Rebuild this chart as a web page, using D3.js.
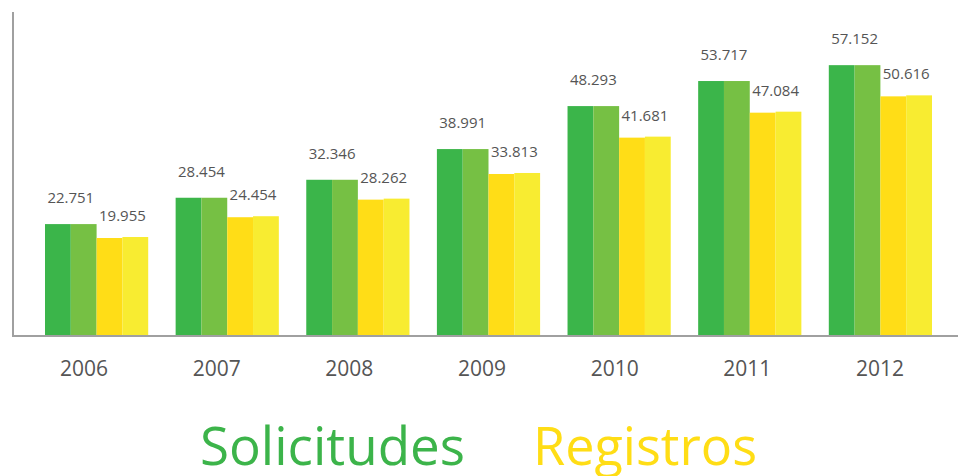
<!DOCTYPE html>
<html>
<head>
<meta charset="utf-8">
<script src="https://cdn.jsdelivr.net/npm/d3@7"></script>
<style>
  body { margin: 0; background: #fff; }
  text { font-family: "Open Sans", sans-serif; }
</style>
</head>
<body>
<div id="chart"></div>
<script>
// data
var years = ["2006", "2007", "2008", "2009", "2010", "2011", "2012"];
var solicitudes = [22751, 28454, 32346, 38991, 48293, 53717, 57152];
var registros = [19955, 24454, 28262, 33813, 41681, 47084, 50616];
var seriesNames = ["Solicitudes", "Registros"];

var width = 958, height = 476;

var svg = d3.select("#chart").append("svg")
	.attr("width", width)
	.attr("height", height);

// scales
var x = d3.scaleBand()
	.domain(years)
	.range([45, 932])
	.paddingInner(0.21)
	.paddingOuter(0);

var xLabel = d3.scalePoint()
	.domain(years)
	.range([84, 880]);

var x1 = d3.scaleBand()
	.domain([0, 1, 2, 3])
	.range([0, x.bandwidth()]);

var y = d3.scaleLinear()
	.domain([-1470, 60000])
	.range([336, 52]);

var fmt = function(v) { return d3.format(",")(v).replace(/,/g, "."); };

var colors = {
	s: ["#3bb54a", "#76c044"],
	r: ["#ffdd17", "#f8ec31"]
};

// axes lines
svg.append("line")
	.attr("x1", 13).attr("x2", 13)
	.attr("y1", 12).attr("y2", 337)
	.style("stroke", "#a0a0a0")
	.style("stroke-width", 2);

var g = svg.selectAll(".year")
	.data(years)
	.enter().append("g")
	.attr("class", "year")
	.attr("transform", function(d) { return "translate(" + x(d) + ",0)"; });

// each year: two shades per series
g.each(function(d, i) {
	var grp = d3.select(this);
	var s = solicitudes[i], r = registros[i];
	grp.append("rect")
		.attr("x", x1(0)).attr("width", x1.bandwidth())
		.attr("y", y(s)).attr("height", y(-1470) - y(s))
		.style("fill", colors.s[0]);
	grp.append("rect")
		.attr("x", x1(1)).attr("width", x1.bandwidth())
		.attr("y", y(s)).attr("height", y(-1470) - y(s))
		.style("fill", colors.s[1]);
	grp.append("rect")
		.attr("x", x1(2)).attr("width", x1.bandwidth())
		.attr("y", y(r) + 1).attr("height", y(-1470) - y(r) - 1)
		.style("fill", colors.r[0]);
	grp.append("rect")
		.attr("x", x1(3)).attr("width", x1.bandwidth())
		.attr("y", y(r)).attr("height", y(-1470) - y(r))
		.style("fill", colors.r[1]);

	grp.append("text")
		.attr("x", x1(1))
		.attr("y", y(s) - 21)
		.attr("text-anchor", "middle")
		.style("font-size", "15px")
		.style("fill", "#555")
		.text(fmt(s));
	grp.append("text")
		.attr("x", x1(3))
		.attr("y", y(r) - 16)
		.attr("text-anchor", "middle")
		.style("font-size", "15px")
		.style("fill", "#555")
		.text(fmt(r));
});

svg.append("line")
	.attr("x1", 13).attr("x2", 958)
	.attr("y1", 336).attr("y2", 336)
	.style("stroke", "#a0a0a0")
	.style("stroke-width", 2);

// year labels
svg.selectAll(".yl")
	.data(years)
	.enter().append("text")
	.attr("class", "yl")
	.attr("x", function(d) { return xLabel(d); })
	.attr("y", 376)
	.attr("text-anchor", "middle")
	.style("font-size", "21px")
	.style("fill", "#555")
	.text(function(d) { return d; });

// legend
var legend = [
	{name: seriesNames[0], x: 200, w: 265, c: "#3cb44a"},
	{name: seriesNames[1], x: 533, w: 224, c: "#ffdd15"}
];
svg.selectAll(".lg")
	.data(legend)
	.enter().append("text")
	.attr("class", "lg")
	.attr("x", function(d) { return d.x; })
	.attr("y", 465)
	.attr("textLength", function(d) { return d.w; })
	.attr("lengthAdjust", "spacingAndGlyphs")
	.style("font-size", "53px")
	.style("fill", function(d) { return d.c; })
	.text(function(d) { return d.name; });
</script>
</body>
</html>
